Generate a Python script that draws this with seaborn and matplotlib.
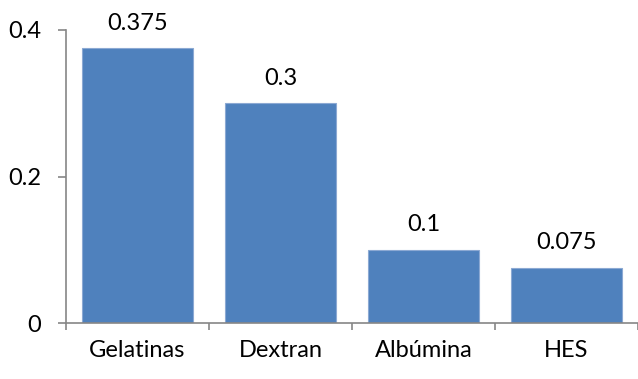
import matplotlib
matplotlib.use("Agg")
import matplotlib.pyplot as plt
import seaborn as sns
import pandas as pd

categories = ["Gelatinas", "Dextran", "Albúmina", "HES"]
values = [0.375, 0.3, 0.1, 0.075]
value_labels = ["0.375", "0.3", "0.1", "0.075"]
ytick_values = [0, 0.2, 0.4]
ytick_labels = ["0", "0.2", "0.4"]

sns.set_theme(style="white")
plt.rcParams["font.family"] = ["Lato", "DejaVu Sans"]

df = pd.DataFrame({"cat": categories, "val": values})

fig = plt.figure(figsize=(6.38, 3.79), dpi=100)
ax = fig.add_axes([66 / 638, 1 - 323 / 379, 1 - 66 / 638, (323 - 30) / 379])

sns.barplot(data=df, x="cat", y="val", color="#4F81BD", saturation=1,
            width=0.775, edgecolor="#8CA9D3", linewidth=0.8, ax=ax)

ax.set_ylim(0, 0.4)
ax.set_xlim(-0.5, len(categories) - 0.5)
ax.set_xlabel("")
ax.set_ylabel("")

fs = 17
for i, (v, lab) in enumerate(zip(values, value_labels)):
    ax.annotate(lab, (i, v), xytext=(0, 10.5), textcoords="offset points",
                ha="center", va="bottom", fontsize=fs, color="black")

gray = "#868686"
for side in ("top", "right"):
    ax.spines[side].set_visible(False)
for side in ("left", "bottom"):
    ax.spines[side].set_color(gray)
    ax.spines[side].set_linewidth(1.2)

ax.set_yticks(ytick_values)
ax.set_yticklabels(ytick_labels)
ax.tick_params(axis="y", left=True, length=6, width=1.2, color=gray,
               labelsize=fs, pad=12, labelcolor="black")

ax.set_xticks(range(len(categories)))
ax.set_xticklabels(categories)
ax.set_xticks([i - 0.5 for i in range(len(categories) + 1)], minor=True)
ax.tick_params(axis="x", which="major", bottom=False, length=0,
               labelsize=fs, pad=12, labelcolor="black")
ax.tick_params(axis="x", which="minor", bottom=True, length=5, width=1.2,
               color=gray)
ax.grid(False)

fig.savefig("out.png", dpi=100)
